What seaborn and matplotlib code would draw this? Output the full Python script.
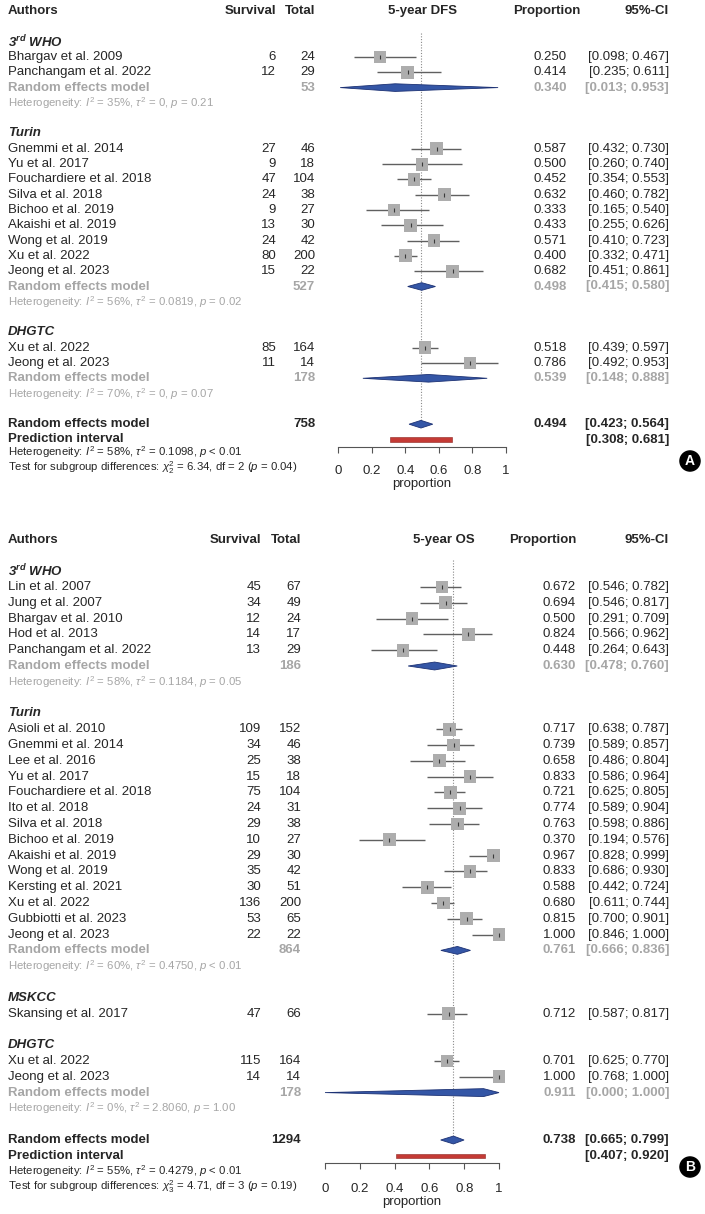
import numpy as np
import pandas as pd
import matplotlib
matplotlib.use("Agg")
import matplotlib.pyplot as plt
import matplotlib.transforms as mtransforms
import seaborn as sns

# ---------------- panel A : 5-year DFS ----------------
dfs_group = ["3rd WHO"] * 2 + ["Turin"] * 9 + ["DHGTC"] * 2
dfs_authors = ["Bhargav et al. 2009", "Panchangam et al. 2022",
               "Gnemmi et al. 2014", "Yu et al. 2017", "Fouchardiere et al. 2018",
               "Silva et al. 2018", "Bichoo et al. 2019", "Akaishi et al. 2019",
               "Wong et al. 2019", "Xu et al. 2022", "Jeong et al. 2023",
               "Xu et al. 2022", "Jeong et al. 2023"]
dfs_events = [6, 12, 27, 9, 47, 24, 9, 13, 24, 80, 15, 85, 11]
dfs_total = [24, 29, 46, 18, 104, 38, 27, 30, 42, 200, 22, 164, 14]
dfs_prop = [0.250, 0.414, 0.587, 0.500, 0.452, 0.632, 0.333, 0.433, 0.571, 0.400, 0.682, 0.518, 0.786]
dfs_lower = [0.098, 0.235, 0.432, 0.260, 0.354, 0.460, 0.165, 0.255, 0.410, 0.332, 0.451, 0.439, 0.492]
dfs_upper = [0.467, 0.611, 0.730, 0.740, 0.553, 0.782, 0.540, 0.626, 0.723, 0.471, 0.861, 0.597, 0.953]

dfs_sub_names = ["3rd WHO", "Turin", "DHGTC"]
dfs_sub_n = [53, 527, 178]
dfs_sub_est = [0.340, 0.498, 0.539]
dfs_sub_lower = [0.013, 0.415, 0.148]
dfs_sub_upper = [0.953, 0.580, 0.888]
dfs_sub_i2 = ["35%", "56%", "70%"]
dfs_sub_tau2 = ["0", "0.0819", "0"]
dfs_sub_p = ["= 0.21", "= 0.02", "= 0.07"]

dfs_all_n = 758
dfs_all_est, dfs_all_lower, dfs_all_upper = 0.494, 0.423, 0.564
dfs_pred_lower, dfs_pred_upper = 0.308, 0.681
dfs_all_het = ["58%", "0.1098", "< 0.01"]
dfs_test = ["2", "6.34", "2", "0.04"]

# ---------------- panel B : 5-year OS ----------------
os_group = ["3rd WHO"] * 5 + ["Turin"] * 14 + ["MSKCC"] + ["DHGTC"] * 2
os_authors = ["Lin et al. 2007", "Jung et al. 2007", "Bhargav et al. 2010", "Hod et al. 2013",
              "Panchangam et al. 2022",
              "Asioli et al. 2010", "Gnemmi et al. 2014", "Lee et al. 2016", "Yu et al. 2017",
              "Fouchardiere et al. 2018", "Ito et al. 2018", "Silva et al. 2018",
              "Bichoo et al. 2019", "Akaishi et al. 2019", "Wong et al. 2019",
              "Kersting et al. 2021", "Xu et al. 2022", "Gubbiotti et al. 2023",
              "Jeong et al. 2023",
              "Skansing et al. 2017",
              "Xu et al. 2022", "Jeong et al. 2023"]
os_events = [45, 34, 12, 14, 13, 109, 34, 25, 15, 75, 24, 29, 10, 29, 35, 30, 136, 53, 22, 47, 115, 14]
os_total = [67, 49, 24, 17, 29, 152, 46, 38, 18, 104, 31, 38, 27, 30, 42, 51, 200, 65, 22, 66, 164, 14]
os_prop = [0.672, 0.694, 0.500, 0.824, 0.448, 0.717, 0.739, 0.658, 0.833, 0.721, 0.774, 0.763,
           0.370, 0.967, 0.833, 0.588, 0.680, 0.815, 1.000, 0.712, 0.701, 1.000]
os_lower = [0.546, 0.546, 0.291, 0.566, 0.264, 0.638, 0.589, 0.486, 0.586, 0.625, 0.589, 0.598,
            0.194, 0.828, 0.686, 0.442, 0.611, 0.700, 0.846, 0.587, 0.625, 0.768]
os_upper = [0.782, 0.817, 0.709, 0.962, 0.643, 0.787, 0.857, 0.804, 0.964, 0.805, 0.904, 0.886,
            0.576, 0.999, 0.930, 0.724, 0.744, 0.901, 1.000, 0.817, 0.770, 1.000]

os_sub_names = ["3rd WHO", "Turin", "DHGTC"]
os_sub_n = [186, 864, 178]
os_sub_est = [0.630, 0.761, 0.911]
os_sub_lower = [0.478, 0.666, 0.000]
os_sub_upper = [0.760, 0.836, 1.000]
os_sub_i2 = ["58%", "60%", "0%"]
os_sub_tau2 = ["0.1184", "0.4750", "2.8060"]
os_sub_p = ["= 0.05", "< 0.01", "= 1.00"]

os_all_n = 1294
os_all_est, os_all_lower, os_all_upper = 0.738, 0.665, 0.799
os_pred_lower, os_pred_upper = 0.407, 0.920
os_all_het = ["55%", "0.4279", "< 0.01"]
os_test = ["3", "4.71", "3", "0.19"]

sns.set_theme(style="white")
plt.rcParams["font.family"] = ["Liberation Sans", "DejaVu Sans"]
plt.rcParams["mathtext.fontset"] = "custom"
plt.rcParams["mathtext.rm"] = "Liberation Sans"
plt.rcParams["mathtext.it"] = "Liberation Sans:italic"
plt.rcParams["mathtext.bf"] = "Liberation Sans:italic:bold"

W, H = 705, 1214
FS = 9.5
FS_HET = 8.2
GREY = "#a6a6a6"
BLUE = "#3456a6"
RED = "#c43a35"

fig = plt.figure(figsize=(W / 100, H / 100), dpi=100)


def group_label(g):
    if g == "3rd WHO":
        return r"3$^{\mathbf{rd}}$ WHO"
    return g


def draw_panel(df, sub, overall, cfg):
    rs, row0 = cfg["rs"], cfg["row0"]
    top_row, axis_row = -3.5, cfg["axis_row"]
    top_px = row0 + top_row * rs
    bot_px = row0 + axis_row * rs
    ax = fig.add_axes([cfg["x0"] / W, 1 - bot_px / H,
                       (cfg["x1"] - cfg["x0"]) / W, (bot_px - top_px) / H])
    ax.set_xlim(0, 1)
    ax.set_ylim(axis_row, top_row)

    # row layout
    rows = np.zeros(len(df))
    grow, srow = {}, {}
    r = -1
    for g in dict.fromkeys(df["group"]):
        grow[g] = r
        r += 1
        for i in np.where(df["group"] == g)[0]:
            rows[i] = r
            r += 1
        if g in list(sub["name"]):
            srow[g] = r
            r += 2
        r += 1
    df = df.assign(row=rows)
    all_row = r

    tr = mtransforms.blended_transform_factory(fig.transFigure, ax.transData)

    def txt(px, y, s, ha="left", **kw):
        kw.setdefault("fontsize", FS)
        ax.text(px / W, y, s, ha=ha, va="center", transform=tr, **kw)

    # header
    txt(8, -3, "Authors", weight="bold")
    txt(cfg["surv_x"], -3, "Survival", ha="right", weight="bold")
    txt(cfg["tot_x"], -3, "Total", ha="right", weight="bold")
    txt(cfg["head_x"], -3, cfg["title"], ha="center", weight="bold")
    txt(cfg["prop_head_x"], -3, "Proportion", ha="right", weight="bold")
    txt(669, -3, "95%-CI", ha="right", weight="bold")

    # reference line
    h = 0.25
    ax.vlines(overall["est"], cfg["ref_top"], all_row - h, colors="#8a8a8a",
              linestyles=(0, (1, 1.5)), lw=0.8, zorder=1)

    # studies
    ax.hlines(df["row"], df["lower"], df["upper"], colors="#606060", lw=1.0, zorder=2)
    sns.scatterplot(data=df, x="prop", y="row", marker="s", s=85, color="#adadad",
                    edgecolor="none", linewidth=0, legend=False, ax=ax, zorder=3, clip_on=False)
    ax.scatter(df["prop"], df["row"], marker="|", s=9, color="#3a3a3a", lw=0.8, zorder=4,
               clip_on=False)
    for _, d in df.iterrows():
        txt(8, d["row"], d["author"])
        txt(cfg["surv_x"], d["row"], str(d["events"]), ha="right")
        txt(cfg["tot_x"], d["row"], str(d["total"]), ha="right")
        txt(cfg["est_x"], d["row"], f"{d['prop']:.3f}", ha="right")
        txt(669, d["row"], f"[{d['lower']:.3f}; {d['upper']:.3f}]", ha="right")

    for g, y in grow.items():
        txt(8, y, group_label(g), weight="bold", style="italic")

    # subgroup summaries
    for _, s in sub.iterrows():
        y = srow[s["name"]]
        ax.fill([s["lower"], s["est"], s["upper"], s["est"]], [y, y - h, y, y + h],
                fc=BLUE, ec="#1d3274", lw=0.6, zorder=3, clip_on=False)
        txt(8, y, "Random effects model", weight="bold", color=GREY)
        txt(cfg["tot_x"], y, str(s["n"]), ha="right", weight="bold", color=GREY)
        txt(cfg["est_x"], y, f"{s['est']:.3f}", ha="right", weight="bold", color=GREY)
        txt(669, y, f"[{s['lower']:.3f}; {s['upper']:.3f}]", ha="right", weight="bold", color=GREY)
        txt(8, y + 1, "Heterogeneity: $I^2$ = " + s["i2"] + r", $\tau^2$ = " + s["tau2"]
            + ", $p$ " + s["p"], color=GREY, fontsize=FS_HET)

    # overall
    y = all_row
    ax.fill([overall["lower"], overall["est"], overall["upper"], overall["est"]],
            [y, y - h, y, y + h], fc=BLUE, ec="#1d3274", lw=0.6, zorder=3)
    ax.barh(y + 1, overall["pu"] - overall["pl"], left=overall["pl"], height=0.27,
            color=RED, edgecolor="#8e2420", lw=0.4, zorder=3)
    txt(8, y, "Random effects model", weight="bold")
    txt(cfg["tot_x"], y, str(overall["n"]), ha="right", weight="bold")
    txt(cfg["est_x"], y, f"{overall['est']:.3f}", ha="right", weight="bold")
    txt(669, y, f"[{overall['lower']:.3f}; {overall['upper']:.3f}]", ha="right", weight="bold")
    txt(8, y + 1, "Prediction interval", weight="bold")
    txt(669, y + 1, f"[{overall['pl']:.3f}; {overall['pu']:.3f}]", ha="right", weight="bold")
    het = overall["het"]
    txt(8, cfg["het_row"], "Heterogeneity: $I^2$ = " + het[0] + r", $\tau^2$ = " + het[1]
        + ", $p$ " + het[2], fontsize=FS_HET)
    t = overall["test"]
    txt(8, cfg["test_row"], r"Test for subgroup differences: $\chi^2_{" + t[0] + "}$ = " + t[1]
        + ", df = " + t[2] + " ($p$ = " + t[3] + ")", fontsize=FS_HET)

    # axis
    sns.despine(ax=ax, left=True, top=True, right=True)
    ax.spines["bottom"].set_color("#555555")
    ax.spines["bottom"].set_linewidth(0.8)
    ax.set_yticks([])
    ax.set_xticks([0, 0.2, 0.4, 0.6, 0.8, 1])
    ax.set_xticklabels(["0", "0.2", "0.4", "0.6", "0.8", "1"])
    ax.tick_params(axis="x", direction="out", length=4.5, width=0.8, color="#555555",
                   pad=cfg["pad"], labelsize=FS, bottom=True)
    ax.set_xlabel("proportion", fontsize=FS, labelpad=0.5)
    ax.set_ylabel("")
    ax.patch.set_alpha(0)
    ax.grid(False)

    fig.text(690 / W, 1 - cfg["letter_y"] / H, cfg["letter"], ha="center", va="center",
             color="white", weight="bold", fontsize=10,
             bbox=dict(boxstyle="circle,pad=0.22", fc="black", ec="black"))


dfs_df = pd.DataFrame({"group": dfs_group, "author": dfs_authors, "events": dfs_events,
                       "total": dfs_total, "prop": dfs_prop, "lower": dfs_lower,
                       "upper": dfs_upper})
dfs_sub = pd.DataFrame({"name": dfs_sub_names, "n": dfs_sub_n, "est": dfs_sub_est,
                        "lower": dfs_sub_lower, "upper": dfs_sub_upper, "i2": dfs_sub_i2,
                        "tau2": dfs_sub_tau2, "p": dfs_sub_p})
dfs_overall = dict(n=dfs_all_n, est=dfs_all_est, lower=dfs_all_lower, upper=dfs_all_upper,
                   pl=dfs_pred_lower, pu=dfs_pred_upper, het=dfs_all_het, test=dfs_test)

os_df = pd.DataFrame({"group": os_group, "author": os_authors, "events": os_events,
                      "total": os_total, "prop": os_prop, "lower": os_lower,
                      "upper": os_upper})
os_sub = pd.DataFrame({"name": os_sub_names, "n": os_sub_n, "est": os_sub_est,
                       "lower": os_sub_lower, "upper": os_sub_upper, "i2": os_sub_i2,
                       "tau2": os_sub_tau2, "p": os_sub_p})
os_overall = dict(n=os_all_n, est=os_all_est, lower=os_all_lower, upper=os_all_upper,
                  pl=os_pred_lower, pu=os_pred_upper, het=os_all_het, test=os_test)

draw_panel(dfs_df, dfs_sub, dfs_overall,
           dict(rs=15.3, row0=57, axis_row=25.5, x0=338, x1=506, surv_x=276, tot_x=315,
                head_x=422, title="5-year DFS", prop_head_x=580, est_x=567,
                ref_top=-1.6, het_row=25.85, test_row=26.85, pad=8.5,
                letter="A", letter_y=461))
draw_panel(os_df, os_sub, os_overall,
           dict(rs=15.8, row0=587, axis_row=36.45, x0=325, x1=499, surv_x=261, tot_x=301,
                head_x=444, title="5-year OS", prop_head_x=576, est_x=576,
                ref_top=-1.7, het_row=36.95, test_row=37.95, pad=10.0,
                letter="B", letter_y=1167))

fig.savefig("out.png", dpi=100, facecolor="white")
